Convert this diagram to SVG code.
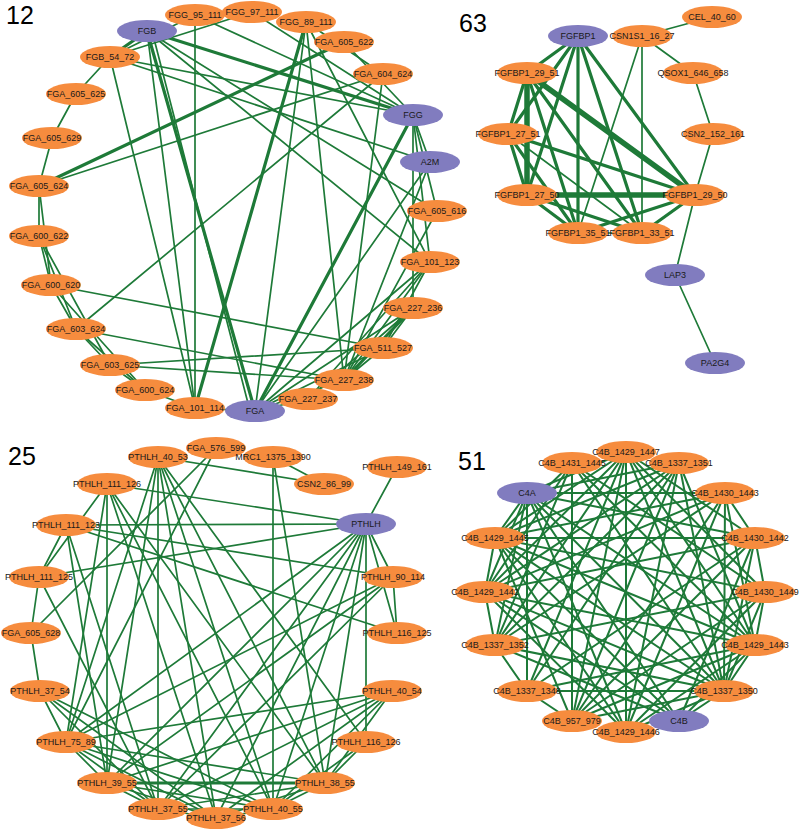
<svg xmlns="http://www.w3.org/2000/svg" width="799" height="831" viewBox="0 0 799 831">
<style>
.bg{fill:#ffffff}
line{stroke:#1e7a38;stroke-width:1.7;stroke-linecap:round}
line.t{stroke-width:3.2}
line.tt{stroke-width:5.5}
line.q4{stroke-width:2}
.o{fill:#f68c3e}
.p{fill:#817cbf}
text{font-family:"Liberation Sans",Arial,sans-serif;font-size:9px;fill:#1a1a1a;text-anchor:middle}
text.big{font-size:25px;fill:#000;text-anchor:start}
</style>
<rect class="bg" x="0" y="0" width="799" height="831"/>
<text class="big" x="6" y="24">12</text>
<text class="big" x="459" y="32">63</text>
<text class="big" x="8" y="465">25</text>
<text class="big" x="458" y="470">51</text>
<g id="connectors">
<line x1="110" y1="57" x2="76" y2="94"/>
<line x1="76" y1="94" x2="52" y2="138"/>
<line x1="52" y1="138" x2="39" y2="186"/>
<line x1="39" y1="186" x2="39" y2="236"/>
<line x1="39" y1="186" x2="51" y2="285"/>
<line x1="39" y1="236" x2="51" y2="285"/>
<line x1="39" y1="236" x2="76" y2="329"/>
<line x1="39" y1="236" x2="110" y2="365"/>
<line x1="51" y1="285" x2="76" y2="329"/>
<line x1="51" y1="285" x2="145" y2="390"/>
<line x1="76" y1="329" x2="110" y2="365"/>
<line x1="76" y1="329" x2="145" y2="390"/>
<line x1="110" y1="365" x2="145" y2="390"/>
<line x1="145" y1="390" x2="195" y2="408"/>
<line x1="195" y1="408" x2="255" y2="411"/>
<line class="t" x1="147" y1="31" x2="110" y2="57"/>
<line x1="195" y1="15" x2="110" y2="57"/>
<line x1="252" y1="12" x2="110" y2="57"/>
<line x1="195" y1="15" x2="195" y2="408"/>
<line class="t" x1="147" y1="31" x2="255" y2="411"/>
<line x1="152" y1="31" x2="250" y2="411"/>
<line x1="147" y1="31" x2="195" y2="408"/>
<line x1="110" y1="57" x2="195" y2="408"/>
<line x1="110" y1="57" x2="413" y2="115"/>
<line x1="110" y1="57" x2="430" y2="162"/>
<line class="t" x1="147" y1="31" x2="413" y2="115"/>
<line x1="147" y1="31" x2="437" y2="211"/>
<line x1="147" y1="31" x2="430" y2="262"/>
<line x1="195" y1="15" x2="413" y2="115"/>
<line x1="252" y1="12" x2="413" y2="115"/>
<line x1="306" y1="22" x2="383" y2="74"/>
<line class="t" x1="306" y1="22" x2="195" y2="408"/>
<line x1="306" y1="22" x2="255" y2="411"/>
<line x1="306" y1="22" x2="344" y2="380"/>
<line x1="306" y1="22" x2="430" y2="262"/>
<line class="t" x1="344" y1="42" x2="39" y2="186"/>
<line x1="383" y1="74" x2="39" y2="186"/>
<line x1="383" y1="74" x2="76" y2="329"/>
<line x1="383" y1="74" x2="344" y2="380"/>
<line x1="344" y1="42" x2="413" y2="115"/>
<line class="t" x1="413" y1="115" x2="255" y2="411"/>
<line x1="413" y1="115" x2="430" y2="162"/>
<line x1="413" y1="115" x2="437" y2="211"/>
<line x1="413" y1="115" x2="430" y2="262"/>
<line x1="413" y1="115" x2="413" y2="308"/>
<line x1="430" y1="162" x2="344" y2="380"/>
<line x1="430" y1="162" x2="255" y2="411"/>
<line x1="437" y1="211" x2="344" y2="380"/>
<line x1="430" y1="262" x2="255" y2="411"/>
<line x1="430" y1="262" x2="308" y2="399"/>
<line x1="430" y1="262" x2="344" y2="380"/>
<line x1="430" y1="262" x2="383" y2="348"/>
<line class="t" x1="413" y1="308" x2="344" y2="380"/>
<line x1="413" y1="308" x2="308" y2="399"/>
<line x1="413" y1="308" x2="255" y2="411"/>
<line x1="413" y1="308" x2="383" y2="348"/>
<line x1="383" y1="348" x2="344" y2="380"/>
<line x1="383" y1="348" x2="255" y2="411"/>
<line x1="344" y1="380" x2="255" y2="411"/>
<line x1="308" y1="399" x2="255" y2="411"/>
<line x1="51" y1="285" x2="383" y2="348"/>
<line x1="76" y1="329" x2="344" y2="380"/>
<line x1="110" y1="365" x2="383" y2="348"/>
<line x1="110" y1="365" x2="344" y2="380"/>
<line x1="642" y1="36" x2="712" y2="17"/>
<line x1="642" y1="36" x2="693" y2="73"/>
<line x1="693" y1="73" x2="713" y2="134"/>
<line x1="713" y1="134" x2="695" y2="195"/>
<line x1="642" y1="36" x2="642" y2="233"/>
<line x1="642" y1="36" x2="578" y2="233"/>
<line x1="695" y1="195" x2="675" y2="275"/>
<line x1="675" y1="275" x2="715" y2="363"/>
<line class="t" x1="578" y1="36" x2="527" y2="73"/>
<line class="t" x1="578" y1="36" x2="508" y2="134"/>
<line class="t" x1="578" y1="36" x2="527" y2="195"/>
<line class="t" x1="578" y1="36" x2="578" y2="233"/>
<line class="t" x1="578" y1="36" x2="642" y2="233"/>
<line class="t" x1="578" y1="36" x2="695" y2="195"/>
<line class="tt" x1="527" y1="73" x2="527" y2="195"/>
<line class="t" x1="527" y1="73" x2="508" y2="134"/>
<line class="tt" x1="527" y1="73" x2="695" y2="195"/>
<line class="t" x1="527" y1="73" x2="578" y2="233"/>
<line class="t" x1="527" y1="73" x2="642" y2="233"/>
<line class="t" x1="508" y1="134" x2="527" y2="195"/>
<line class="t" x1="508" y1="134" x2="695" y2="195"/>
<line class="t" x1="508" y1="134" x2="578" y2="233"/>
<line x1="508" y1="134" x2="642" y2="233"/>
<line class="tt" x1="527" y1="195" x2="695" y2="195"/>
<line class="t" x1="527" y1="195" x2="578" y2="233"/>
<line class="t" x1="527" y1="195" x2="642" y2="233"/>
<line class="t" x1="695" y1="195" x2="578" y2="233"/>
<line class="t" x1="695" y1="195" x2="642" y2="233"/>
<line x1="578" y1="233" x2="642" y2="233"/>
<line x1="397" y1="467" x2="366" y2="524"/>
<line x1="158" y1="457" x2="324" y2="484"/>
<line x1="273" y1="457" x2="324" y2="484"/>
<line x1="107" y1="484" x2="366" y2="524"/>
<line x1="66" y1="525" x2="366" y2="524"/>
<line x1="39" y1="577" x2="366" y2="524"/>
<line x1="66" y1="525" x2="393" y2="577"/>
<line x1="66" y1="525" x2="397" y2="633"/>
<line x1="216" y1="448" x2="31" y2="633"/>
<line x1="216" y1="448" x2="66" y2="742"/>
<line x1="158" y1="457" x2="158" y2="809"/>
<line x1="158" y1="457" x2="216" y2="818"/>
<line x1="158" y1="457" x2="273" y2="809"/>
<line x1="158" y1="457" x2="325" y2="783"/>
<line x1="158" y1="457" x2="107" y2="783"/>
<line x1="158" y1="457" x2="66" y2="742"/>
<line x1="158" y1="457" x2="366" y2="742"/>
<line x1="273" y1="457" x2="325" y2="783"/>
<line x1="273" y1="457" x2="273" y2="809"/>
<line x1="107" y1="484" x2="39" y2="577"/>
<line x1="107" y1="484" x2="66" y2="742"/>
<line x1="107" y1="484" x2="107" y2="783"/>
<line x1="107" y1="484" x2="216" y2="818"/>
<line x1="107" y1="484" x2="325" y2="783"/>
<line x1="107" y1="484" x2="273" y2="809"/>
<line x1="66" y1="525" x2="39" y2="577"/>
<line x1="66" y1="525" x2="158" y2="809"/>
<line x1="66" y1="525" x2="107" y2="783"/>
<line x1="39" y1="577" x2="31" y2="633"/>
<line x1="39" y1="577" x2="158" y2="809"/>
<line x1="31" y1="633" x2="40" y2="691"/>
<line x1="40" y1="691" x2="66" y2="742"/>
<line x1="40" y1="691" x2="158" y2="809"/>
<line x1="40" y1="691" x2="216" y2="818"/>
<line x1="40" y1="691" x2="273" y2="809"/>
<line x1="66" y1="742" x2="392" y2="691"/>
<line x1="66" y1="742" x2="393" y2="577"/>
<line x1="66" y1="742" x2="107" y2="783"/>
<line x1="66" y1="742" x2="158" y2="809"/>
<line x1="66" y1="742" x2="216" y2="818"/>
<line x1="66" y1="742" x2="273" y2="809"/>
<line x1="66" y1="742" x2="325" y2="783"/>
<line x1="366" y1="524" x2="393" y2="577"/>
<line x1="366" y1="524" x2="397" y2="633"/>
<line x1="366" y1="524" x2="366" y2="742"/>
<line x1="366" y1="524" x2="325" y2="783"/>
<line x1="366" y1="524" x2="273" y2="809"/>
<line x1="366" y1="524" x2="216" y2="818"/>
<line x1="366" y1="524" x2="158" y2="809"/>
<line x1="366" y1="524" x2="107" y2="783"/>
<line x1="366" y1="524" x2="66" y2="742"/>
<line x1="393" y1="577" x2="397" y2="633"/>
<line x1="393" y1="577" x2="107" y2="783"/>
<line x1="393" y1="577" x2="158" y2="809"/>
<line x1="392" y1="691" x2="107" y2="783"/>
<line x1="392" y1="691" x2="158" y2="809"/>
<line x1="392" y1="691" x2="216" y2="818"/>
<line x1="392" y1="691" x2="273" y2="809"/>
<line x1="392" y1="691" x2="325" y2="783"/>
<line x1="366" y1="742" x2="325" y2="783"/>
<line x1="366" y1="742" x2="273" y2="809"/>
<line class="t" x1="107" y1="783" x2="325" y2="783"/>
<line x1="107" y1="783" x2="158" y2="809"/>
<line x1="107" y1="783" x2="216" y2="818"/>
<line x1="107" y1="783" x2="273" y2="809"/>
<line x1="158" y1="809" x2="216" y2="818"/>
<line x1="158" y1="809" x2="273" y2="809"/>
<line x1="158" y1="809" x2="325" y2="783"/>
<line x1="216" y1="818" x2="273" y2="809"/>
<line x1="216" y1="818" x2="325" y2="783"/>
<line x1="273" y1="809" x2="325" y2="783"/>
<line class="q4" x1="495" y1="538" x2="485" y2="592"/>
<line class="q4" x1="485" y1="592" x2="495" y2="645"/>
<line class="q4" x1="495" y1="645" x2="527" y2="691"/>
<line class="q4" x1="527" y1="691" x2="572" y2="721"/>
<line class="q4" x1="725" y1="493" x2="755" y2="538"/>
<line class="q4" x1="755" y1="538" x2="765" y2="592"/>
<line class="q4" x1="765" y1="592" x2="755" y2="645"/>
<line class="q4" x1="755" y1="645" x2="724" y2="691"/>
<line class="q4" x1="724" y1="691" x2="679" y2="721"/>
<line class="q4" x1="527" y1="493" x2="495" y2="538"/>
<line class="q4" x1="626" y1="452" x2="527" y2="493"/>
<line class="q4" x1="626" y1="452" x2="495" y2="538"/>
<line class="q4" x1="626" y1="452" x2="485" y2="592"/>
<line class="q4" x1="626" y1="452" x2="495" y2="645"/>
<line class="q4" x1="626" y1="452" x2="527" y2="691"/>
<line class="q4" x1="626" y1="452" x2="572" y2="721"/>
<line class="q4" x1="626" y1="452" x2="626" y2="732"/>
<line class="q4" x1="626" y1="452" x2="724" y2="691"/>
<line class="q4" x1="626" y1="452" x2="755" y2="645"/>
<line class="q4" x1="626" y1="452" x2="765" y2="592"/>
<line class="q4" x1="626" y1="452" x2="755" y2="538"/>
<line class="q4" x1="572" y1="463" x2="495" y2="538"/>
<line class="q4" x1="572" y1="463" x2="485" y2="592"/>
<line class="q4" x1="572" y1="463" x2="495" y2="645"/>
<line class="q4" x1="572" y1="463" x2="755" y2="645"/>
<line class="q4" x1="572" y1="463" x2="724" y2="691"/>
<line class="q4" x1="572" y1="463" x2="765" y2="592"/>
<line class="q4" x1="572" y1="463" x2="572" y2="721"/>
<line class="q4" x1="679" y1="463" x2="527" y2="493"/>
<line class="q4" x1="679" y1="463" x2="495" y2="538"/>
<line class="q4" x1="679" y1="463" x2="485" y2="592"/>
<line class="q4" x1="679" y1="463" x2="495" y2="645"/>
<line class="q4" x1="679" y1="463" x2="527" y2="691"/>
<line class="q4" x1="679" y1="463" x2="572" y2="721"/>
<line class="q4" x1="679" y1="463" x2="626" y2="732"/>
<line class="q4" x1="679" y1="463" x2="724" y2="691"/>
<line class="q4" x1="679" y1="463" x2="755" y2="645"/>
<line class="q4" x1="527" y1="493" x2="725" y2="493"/>
<line class="q4" x1="527" y1="493" x2="527" y2="691"/>
<line class="q4" x1="527" y1="493" x2="755" y2="645"/>
<line class="q4" x1="527" y1="493" x2="724" y2="691"/>
<line class="q4" x1="527" y1="493" x2="679" y2="721"/>
<line class="q4" x1="527" y1="493" x2="626" y2="732"/>
<line class="q4" x1="527" y1="493" x2="495" y2="645"/>
<line class="q4" x1="527" y1="493" x2="485" y2="592"/>
<line class="q4" x1="527" y1="493" x2="755" y2="538"/>
<line class="q4" x1="725" y1="493" x2="485" y2="592"/>
<line class="q4" x1="725" y1="493" x2="495" y2="645"/>
<line class="q4" x1="725" y1="493" x2="572" y2="721"/>
<line class="q4" x1="725" y1="493" x2="626" y2="732"/>
<line class="q4" x1="725" y1="493" x2="724" y2="691"/>
<line class="q4" x1="725" y1="493" x2="755" y2="645"/>
<line class="q4" x1="725" y1="493" x2="495" y2="538"/>
<line class="q4" x1="755" y1="538" x2="495" y2="538"/>
<line class="q4" x1="755" y1="538" x2="485" y2="592"/>
<line class="q4" x1="755" y1="538" x2="527" y2="691"/>
<line class="q4" x1="755" y1="538" x2="572" y2="721"/>
<line class="q4" x1="755" y1="538" x2="679" y2="721"/>
<line class="q4" x1="755" y1="538" x2="724" y2="691"/>
<line class="q4" x1="765" y1="592" x2="495" y2="538"/>
<line class="q4" x1="765" y1="592" x2="495" y2="645"/>
<line class="q4" x1="765" y1="592" x2="724" y2="691"/>
<line class="q4" x1="765" y1="592" x2="626" y2="732"/>
<line class="q4" x1="765" y1="592" x2="572" y2="721"/>
<line class="q4" x1="755" y1="645" x2="495" y2="538"/>
<line class="q4" x1="755" y1="645" x2="485" y2="592"/>
<line class="q4" x1="755" y1="645" x2="527" y2="691"/>
<line class="q4" x1="755" y1="645" x2="572" y2="721"/>
<line class="q4" x1="755" y1="645" x2="626" y2="732"/>
<line class="q4" x1="755" y1="645" x2="679" y2="721"/>
<line class="q4" x1="724" y1="691" x2="495" y2="538"/>
<line class="q4" x1="724" y1="691" x2="485" y2="592"/>
<line class="q4" x1="724" y1="691" x2="495" y2="645"/>
<line class="q4" x1="724" y1="691" x2="527" y2="691"/>
<line class="q4" x1="724" y1="691" x2="572" y2="721"/>
<line class="q4" x1="724" y1="691" x2="626" y2="732"/>
<line class="q4" x1="679" y1="721" x2="495" y2="645"/>
<line class="q4" x1="679" y1="721" x2="495" y2="538"/>
<line class="q4" x1="679" y1="721" x2="485" y2="592"/>
<line class="q4" x1="626" y1="732" x2="485" y2="592"/>
<line class="q4" x1="626" y1="732" x2="495" y2="538"/>
<line class="q4" x1="572" y1="721" x2="495" y2="538"/>
</g>
<g id="n-FGB"><ellipse class="p" cx="147" cy="31" rx="30" ry="11"/><text x="147" y="34">FGB</text></g>
<g id="n-FGG_95_111"><ellipse class="o" cx="195" cy="15" rx="30" ry="11"/><text x="195" y="18">FGG_95_111</text></g>
<g id="n-FGG_97_111"><ellipse class="o" cx="252" cy="12" rx="30" ry="11"/><text x="252" y="15">FGG_97_111</text></g>
<g id="n-FGG_89_111"><ellipse class="o" cx="306" cy="22" rx="30" ry="11"/><text x="306" y="25">FGG_89_111</text></g>
<g id="n-FGA_605_622"><ellipse class="o" cx="344" cy="42" rx="30" ry="11"/><text x="344" y="45">FGA_605_622</text></g>
<g id="n-FGA_604_624"><ellipse class="o" cx="383" cy="74" rx="30" ry="11"/><text x="383" y="77">FGA_604_624</text></g>
<g id="n-FGG"><ellipse class="p" cx="413" cy="115" rx="30" ry="11"/><text x="413" y="118">FGG</text></g>
<g id="n-A2M"><ellipse class="p" cx="430" cy="162" rx="30" ry="11"/><text x="430" y="165">A2M</text></g>
<g id="n-FGA_605_616"><ellipse class="o" cx="437" cy="211" rx="30" ry="11"/><text x="437" y="214">FGA_605_616</text></g>
<g id="n-FGA_101_123"><ellipse class="o" cx="430" cy="262" rx="30" ry="11"/><text x="430" y="265">FGA_101_123</text></g>
<g id="n-FGA_227_236"><ellipse class="o" cx="413" cy="308" rx="30" ry="11"/><text x="413" y="311">FGA_227_236</text></g>
<g id="n-FGA_511_527"><ellipse class="o" cx="383" cy="348" rx="30" ry="11"/><text x="383" y="351">FGA_511_527</text></g>
<g id="n-FGA_227_238"><ellipse class="o" cx="344" cy="380" rx="30" ry="11"/><text x="344" y="383">FGA_227_238</text></g>
<g id="n-FGA_227_237"><ellipse class="o" cx="308" cy="399" rx="30" ry="11"/><text x="308" y="402">FGA_227_237</text></g>
<g id="n-FGA_101_114"><ellipse class="o" cx="195" cy="408" rx="30" ry="11"/><text x="195" y="411">FGA_101_114</text></g>
<g id="n-FGA"><ellipse class="p" cx="255" cy="411" rx="30" ry="11"/><text x="255" y="414">FGA</text></g>
<g id="n-FGA_600_624"><ellipse class="o" cx="145" cy="390" rx="30" ry="11"/><text x="145" y="393">FGA_600_624</text></g>
<g id="n-FGA_603_625"><ellipse class="o" cx="110" cy="365" rx="30" ry="11"/><text x="110" y="368">FGA_603_625</text></g>
<g id="n-FGA_603_624"><ellipse class="o" cx="76" cy="329" rx="30" ry="11"/><text x="76" y="332">FGA_603_624</text></g>
<g id="n-FGA_600_620"><ellipse class="o" cx="51" cy="285" rx="30" ry="11"/><text x="51" y="288">FGA_600_620</text></g>
<g id="n-FGA_600_622"><ellipse class="o" cx="39" cy="236" rx="30" ry="11"/><text x="39" y="239">FGA_600_622</text></g>
<g id="n-FGA_605_624"><ellipse class="o" cx="39" cy="186" rx="30" ry="11"/><text x="39" y="189">FGA_605_624</text></g>
<g id="n-FGA_605_629"><ellipse class="o" cx="52" cy="138" rx="30" ry="11"/><text x="52" y="141">FGA_605_629</text></g>
<g id="n-FGA_605_625"><ellipse class="o" cx="76" cy="94" rx="30" ry="11"/><text x="76" y="97">FGA_605_625</text></g>
<g id="n-FGB_54_72"><ellipse class="o" cx="110" cy="57" rx="30" ry="11"/><text x="110" y="60">FGB_54_72</text></g>
<g id="n-FGFBP1"><ellipse class="p" cx="578" cy="36" rx="30" ry="11"/><text x="578" y="39">FGFBP1</text></g>
<g id="n-CEL_40_60"><ellipse class="o" cx="712" cy="17" rx="30" ry="11"/><text x="712" y="20">CEL_40_60</text></g>
<g id="n-CSN1S1_16_27"><ellipse class="o" cx="642" cy="36" rx="30" ry="11"/><text x="642" y="39">CSN1S1_16_27</text></g>
<g id="n-QSOX1_646_658"><ellipse class="o" cx="693" cy="73" rx="30" ry="11"/><text x="693" y="76">QSOX1_646_658</text></g>
<g id="n-CSN2_152_161"><ellipse class="o" cx="713" cy="134" rx="30" ry="11"/><text x="713" y="137">CSN2_152_161</text></g>
<g id="n-FGFBP1_29_51"><ellipse class="o" cx="527" cy="73" rx="30" ry="11"/><text x="527" y="76">FGFBP1_29_51</text></g>
<g id="n-FGFBP1_27_51"><ellipse class="o" cx="508" cy="134" rx="30" ry="11"/><text x="508" y="137">FGFBP1_27_51</text></g>
<g id="n-FGFBP1_27_50"><ellipse class="o" cx="527" cy="195" rx="30" ry="11"/><text x="527" y="198">FGFBP1_27_50</text></g>
<g id="n-FGFBP1_29_50"><ellipse class="o" cx="695" cy="195" rx="30" ry="11"/><text x="695" y="198">FGFBP1_29_50</text></g>
<g id="n-FGFBP1_35_51"><ellipse class="o" cx="578" cy="233" rx="30" ry="11"/><text x="578" y="236">FGFBP1_35_51</text></g>
<g id="n-FGFBP1_33_51"><ellipse class="o" cx="642" cy="233" rx="30" ry="11"/><text x="642" y="236">FGFBP1_33_51</text></g>
<g id="n-LAP3"><ellipse class="p" cx="675" cy="275" rx="30" ry="11"/><text x="675" y="278">LAP3</text></g>
<g id="n-PA2G4"><ellipse class="p" cx="715" cy="363" rx="30" ry="11"/><text x="715" y="366">PA2G4</text></g>
<g id="n-PTHLH_40_53"><ellipse class="o" cx="158" cy="457" rx="30" ry="11"/><text x="158" y="460">PTHLH_40_53</text></g>
<g id="n-FGA_576_599"><ellipse class="o" cx="216" cy="448" rx="30" ry="11"/><text x="216" y="451">FGA_576_599</text></g>
<g id="n-MRC1_1375_1390"><ellipse class="o" cx="273" cy="457" rx="30" ry="11"/><text x="273" y="460">MRC1_1375_1390</text></g>
<g id="n-CSN2_86_99"><ellipse class="o" cx="324" cy="484" rx="30" ry="11"/><text x="324" y="487">CSN2_86_99</text></g>
<g id="n-PTHLH_149_161"><ellipse class="o" cx="397" cy="467" rx="30" ry="11"/><text x="397" y="470">PTHLH_149_161</text></g>
<g id="n-PTHLH_111_126"><ellipse class="o" cx="107" cy="484" rx="30" ry="11"/><text x="107" y="487">PTHLH_111_126</text></g>
<g id="n-PTHLH_111_123"><ellipse class="o" cx="66" cy="525" rx="30" ry="11"/><text x="66" y="528">PTHLH_111_123</text></g>
<g id="n-PTHLH"><ellipse class="p" cx="366" cy="524" rx="30" ry="11"/><text x="366" y="527">PTHLH</text></g>
<g id="n-PTHLH_111_125"><ellipse class="o" cx="39" cy="577" rx="30" ry="11"/><text x="39" y="580">PTHLH_111_125</text></g>
<g id="n-PTHLH_90_114"><ellipse class="o" cx="393" cy="577" rx="30" ry="11"/><text x="393" y="580">PTHLH_90_114</text></g>
<g id="n-FGA_605_628"><ellipse class="o" cx="31" cy="633" rx="30" ry="11"/><text x="31" y="636">FGA_605_628</text></g>
<g id="n-PTHLH_116_125"><ellipse class="o" cx="397" cy="633" rx="30" ry="11"/><text x="397" y="636">PTHLH_116_125</text></g>
<g id="n-PTHLH_37_54"><ellipse class="o" cx="40" cy="691" rx="30" ry="11"/><text x="40" y="694">PTHLH_37_54</text></g>
<g id="n-PTHLH_40_54"><ellipse class="o" cx="392" cy="691" rx="30" ry="11"/><text x="392" y="694">PTHLH_40_54</text></g>
<g id="n-PTHLH_75_89"><ellipse class="o" cx="66" cy="742" rx="30" ry="11"/><text x="66" y="745">PTHLH_75_89</text></g>
<g id="n-PTHLH_116_126"><ellipse class="o" cx="366" cy="742" rx="30" ry="11"/><text x="366" y="745">PTHLH_116_126</text></g>
<g id="n-PTHLH_39_55"><ellipse class="o" cx="107" cy="783" rx="30" ry="11"/><text x="107" y="786">PTHLH_39_55</text></g>
<g id="n-PTHLH_38_55"><ellipse class="o" cx="325" cy="783" rx="30" ry="11"/><text x="325" y="786">PTHLH_38_55</text></g>
<g id="n-PTHLH_37_55"><ellipse class="o" cx="158" cy="809" rx="30" ry="11"/><text x="158" y="812">PTHLH_37_55</text></g>
<g id="n-PTHLH_40_55"><ellipse class="o" cx="273" cy="809" rx="30" ry="11"/><text x="273" y="812">PTHLH_40_55</text></g>
<g id="n-PTHLH_37_56"><ellipse class="o" cx="216" cy="818" rx="30" ry="11"/><text x="216" y="821">PTHLH_37_56</text></g>
<g id="n-C4B_1431_1445"><ellipse class="o" cx="572" cy="463" rx="30" ry="11"/><text x="572" y="466">C4B_1431_1445</text></g>
<g id="n-C4B_1337_1351"><ellipse class="o" cx="679" cy="463" rx="30" ry="11"/><text x="679" y="466">C4B_1337_1351</text></g>
<g id="n-C4B_1429_1447"><ellipse class="o" cx="626" cy="452" rx="30" ry="11"/><text x="626" y="455">C4B_1429_1447</text></g>
<g id="n-C4A"><ellipse class="p" cx="527" cy="493" rx="30" ry="11"/><text x="527" y="496">C4A</text></g>
<g id="n-C4B_1430_1443"><ellipse class="o" cx="725" cy="493" rx="30" ry="11"/><text x="725" y="496">C4B_1430_1443</text></g>
<g id="n-C4B_1429_1445"><ellipse class="o" cx="495" cy="538" rx="30" ry="11"/><text x="495" y="541">C4B_1429_1445</text></g>
<g id="n-C4B_1430_1442"><ellipse class="o" cx="755" cy="538" rx="30" ry="11"/><text x="755" y="541">C4B_1430_1442</text></g>
<g id="n-C4B_1429_1442"><ellipse class="o" cx="485" cy="592" rx="30" ry="11"/><text x="485" y="595">C4B_1429_1442</text></g>
<g id="n-C4B_1430_1449"><ellipse class="o" cx="765" cy="592" rx="30" ry="11"/><text x="765" y="595">C4B_1430_1449</text></g>
<g id="n-C4B_1337_1352"><ellipse class="o" cx="495" cy="645" rx="30" ry="11"/><text x="495" y="648">C4B_1337_1352</text></g>
<g id="n-C4B_1429_1443"><ellipse class="o" cx="755" cy="645" rx="30" ry="11"/><text x="755" y="648">C4B_1429_1443</text></g>
<g id="n-C4B_1337_1348"><ellipse class="o" cx="527" cy="691" rx="30" ry="11"/><text x="527" y="694">C4B_1337_1348</text></g>
<g id="n-C4B_1337_1350"><ellipse class="o" cx="724" cy="691" rx="30" ry="11"/><text x="724" y="694">C4B_1337_1350</text></g>
<g id="n-C4B_957_979"><ellipse class="o" cx="572" cy="721" rx="30" ry="11"/><text x="572" y="724">C4B_957_979</text></g>
<g id="n-C4B"><ellipse class="p" cx="679" cy="721" rx="30" ry="11"/><text x="679" y="724">C4B</text></g>
<g id="n-C4B_1429_1446"><ellipse class="o" cx="626" cy="732" rx="30" ry="11"/><text x="626" y="735">C4B_1429_1446</text></g>
</svg>
